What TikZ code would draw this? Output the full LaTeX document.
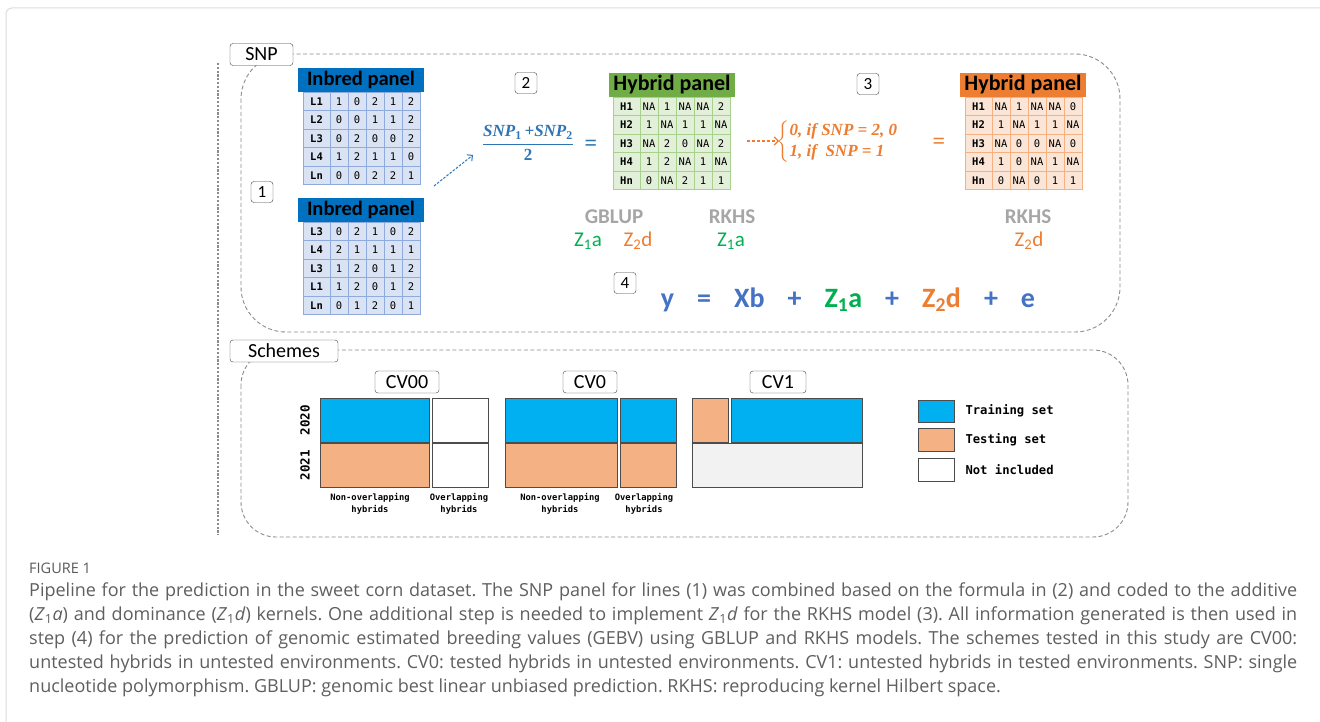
\documentclass[tikz,border=0pt]{standalone}
\usepackage{amsmath,bm}
\usepackage{fontspec}
\setmainfont{Carlito}
\setmonofont{DejaVu Sans Mono}
\newfontfamily\capfont{Open Sans}
\newfontfamily\serifmath{Liberation Serif}
\usetikzlibrary{arrows.meta,positioning}

\definecolor{inblue}{RGB}{0,112,192}
\definecolor{infill}{RGB}{218,227,243}
\definecolor{inline}{RGB}{143,170,220}
\definecolor{hygreen}{RGB}{112,173,71}
\definecolor{hyfill}{RGB}{226,240,217}
\definecolor{hyline}{RGB}{169,209,142}
\definecolor{hyorange}{RGB}{237,125,49}
\definecolor{orfill}{RGB}{251,229,214}
\definecolor{orline}{RGB}{244,177,131}
\definecolor{eqblue}{RGB}{68,114,196}
\definecolor{fracblue}{RGB}{46,117,182}
\definecolor{zgreen}{RGB}{0,176,80}
\definecolor{modgray}{RGB}{166,166,166}
\definecolor{trainblue}{RGB}{0,176,240}
\definecolor{testorange}{RGB}{244,177,131}
\definecolor{nilgray}{RGB}{242,242,242}
\definecolor{framegray}{RGB}{140,140,140}
\definecolor{capgray}{RGB}{95,95,95}
\definecolor{pagegray}{RGB}{220,220,220}

\newcommand\fsz[1]{\fontsize{#1}{#1}\selectfont}
\newcommand\gap{\hspace{23pt}}
\newcommand\frm{\serifmath\bfseries\itshape}
\frenchspacing

\begin{document}
\begin{tikzpicture}[x=1pt, y=-1pt,
      frame/.style={draw=framegray, line width=0.9pt, dash pattern=on 4pt off 2.5pt},
      tag/.style={draw=black!75, rounded corners=3pt, fill=white, inner sep=0pt,
                  minimum height=22pt, font=\fsz{20}},
      num/.style={draw=black!75, rounded corners=3pt, inner sep=0pt,
                  minimum width=22pt, minimum height=21pt, font=\fsz{17}},
      head/.style={anchor=north west, inner sep=0pt, outer sep=0pt, minimum width=126pt,
                   minimum height=24pt, font=\bfseries\fsz{22}},
      cell/.style={anchor=north west, inner sep=0pt, outer sep=0pt, line width=0.6pt,
                   minimum width=18pt, minimum height=18.5pt, font=\ttfamily\fsz{10.5}},
      lcell/.style={minimum width=27pt, font=\ttfamily\bfseries\fsz{10.5}},
      incell/.style={cell, fill=infill, draw=inline},
      hycell/.style={cell, fill=hyfill, draw=hyline},
      orcell/.style={cell, fill=orfill, draw=orline},
      model/.style={font=\bfseries\fsz{21}, text=modgray},
      kern/.style={font=\fsz{21}},
      box/.style={anchor=north west, draw=black!70, line width=0.8pt, inner sep=0pt,
                  outer sep=0pt, minimum height=44pt},
      train/.style={box, fill=trainblue},
      test/.style={box, fill=testorange},
      blank/.style={box, fill=white},
      year/.style={rotate=90, font=\ttfamily\bfseries\fsz{12.5}},
      sub/.style={align=center, font=\ttfamily\bfseries\fontsize{8.8}{12.5}\selectfont},
      legtxt/.style={anchor=west, font=\ttfamily\bfseries\fsz{12.2}},
      capline/.style={anchor=west, inner sep=0pt, font=\capfont\fsz{18}, text=capgray}
    ]
    \useasboundingbox (0,0) rectangle (1320,722);
    \fill[white] (0,0) rectangle (1320,722);
    \draw[pagegray, line width=1pt, rounded corners=6pt] (6,722) |- (1320,8);
    % dotted side rule
    \draw[black!45, line width=2.6pt, dash pattern=on 2.2pt off 1.6pt] (218,63) -- (218,535);
    % frames
    \draw[frame, rounded corners=45pt] (241,54) rectangle (1120,332);
    \draw[frame, rounded corners=35pt] (241,350) rectangle (1128,537);
    \node[tag, minimum width=63pt] (snp) at (261.5,54.5) {SNP};
    \node[tag, minimum width=108pt] (schemes) at (284,351) {Schemes};

    % step numbers
    \node[num] (s1) at (262,192) {1};
    \node[num] (s2) at (526,83) {2};
    \node[num] (s3) at (868,84) {3};
    \node[num] (s4) at (625,283) {4};

    % inbred panel (top)
    \node[head, fill=inblue, font=\bfseries\fsz{20.5}] (inA) at (298,68) {Inbred panel};
    \foreach \lab/\a/\b/\c/\d/\e [count=\r] in {L1/1/0/2/1/2, L2/0/0/1/1/2, L3/0/2/0/0/2, L4/1/2/1/1/0, Ln/0/0/2/2/1}{
      \node[incell, lcell] (inA-\r) at (303,{92+18.5*(\r-1)}) {\lab};
      \foreach \v [count=\k] in {\a,\b,\c,\d,\e}
        \node[incell] (inA-\r-\k) at ({312+18*\k},{92+18.5*(\r-1)}) {\v};
    }
    % inbred panel (bottom)
    \node[head, fill=inblue, font=\bfseries\fsz{20.5}] (inB) at (298,198) {Inbred panel};
    \foreach \lab/\a/\b/\c/\d/\e [count=\r] in {L3/0/2/1/0/2, L4/2/1/1/1/1, L3/1/2/0/1/2, L1/1/2/0/1/2, Ln/0/1/2/0/1}{
      \node[incell, lcell] (inB-\r) at (303,{222+18.5*(\r-1)}) {\lab};
      \foreach \v [count=\k] in {\a,\b,\c,\d,\e}
        \node[incell] (inB-\r-\k) at ({312+18*\k},{222+18.5*(\r-1)}) {\v};
    }
    % hybrid panel (additive)
    \node[head, fill=hygreen] (hyA) at (609,73) {Hybrid panel};
    \foreach \lab/\a/\b/\c/\d/\e [count=\r] in {H1/NA/1/NA/NA/2, H2/1/NA/1/1/NA, H3/NA/2/0/NA/2, H4/1/2/NA/1/NA, Hn/0/NA/2/1/1}{
      \node[hycell, lcell] (hyA-\r) at (613,{97+18.5*(\r-1)}) {\lab};
      \foreach \v [count=\k] in {\a,\b,\c,\d,\e}
        \node[hycell] (hyA-\r-\k) at ({622+18*\k},{97+18.5*(\r-1)}) {\v};
    }
    % hybrid panel (dominance)
    \node[head, fill=hyorange] (hyD) at (960,73) {Hybrid panel};
    \foreach \lab/\a/\b/\c/\d/\e [count=\r] in {H1/NA/1/NA/NA/0, H2/1/NA/1/1/NA, H3/NA/0/0/NA/0, H4/1/0/NA/1/NA, Hn/0/NA/0/1/1}{
      \node[orcell, lcell] (hyD-\r) at (965,{97+18.5*(\r-1)}) {\lab};
      \foreach \v [count=\k] in {\a,\b,\c,\d,\e}
        \node[orcell] (hyD-\r-\k) at ({974+18*\k},{97+18.5*(\r-1)}) {\v};
    }

    % formulas
    \node[font=\fsz{17}, text=fracblue] (frac) at (528,143)
      {$\genfrac{}{}{1.3pt}{0}{\text{\frm SNP{\upshape\textsubscript{1}}\,+SNP{\upshape\textsubscript{2}}}}{\text{\serifmath\bfseries 2}}$};
    \node[font=\serifmath\bfseries\fsz{22}, text=fracblue] (eqA) at (591,145) {=};
    \node[font=\fsz{17}, text=hyorange] (code) at (846,142)
      {$\begin{cases}\text{\frm 0, if SNP = 2, 0}\\ \text{\frm 1, if\ \ SNP = 1}\end{cases}$};
    \node[font=\serifmath\bfseries\fsz{22}, text=hyorange] (eqB) at (939,143) {=};
    \coordinate (blA) at (434,186);
    \coordinate (blB) at (473,155);
    \draw[fracblue, line width=1pt, dash pattern=on 2.5pt off 1.5pt, -{Straight Barb[length=4pt]}] (blA) -- (blB);
    \coordinate (orA) at (747,141);
    \coordinate (orB) at (779,141);
    \draw[hyorange, line width=1.2pt, dash pattern=on 3pt off 2pt, -{Straight Barb[length=4pt]}] (orA) -- (orB);

    % kernels per model
    \node[model] (gblup) at (614,217) {GBLUP};
    \node[kern, text=zgreen] (gA) at (588,241) {Z\textsubscript{1}a};
    \node[kern, text=hyorange] (gD) at (638,241) {Z\textsubscript{2}d};
    \node[model] (rkA) at (732,217) {RKHS};
    \node[kern, text=zgreen] (rA) at (731,241) {Z\textsubscript{1}a};
    \node[model] (rkD) at (1028,217) {RKHS};
    \node[kern, text=hyorange] (rD) at (1029,241) {Z\textsubscript{2}d};

    % model equation
    \node[font=\bfseries\fsz{28}, text=eqblue] (eq) at (848,300)
      {y\gap=\gap Xb\gap+\gap\textcolor{zgreen}{Z\textsubscript{1}a}\gap+\gap\textcolor{hyorange}{Z\textsubscript{2}d}\gap+\gap e};

    % schemes
    \node[tag, minimum width=64pt] (cv00) at (407,382) {CV00};
    \node[tag, minimum width=54pt] (cv0) at (590,382) {CV0};
    \node[tag, minimum width=56pt] (cv1) at (778,382) {CV1};
    \node[year] (y20) at (305,420) {2020};
    \node[year] (y21) at (305,465) {2021};
    % CV00
    \node[train, minimum width=109pt] (c00-a) at (320,398) {};
    \node[blank, minimum width=56pt] (c00-b) at (432,398) {};
    \node[test, minimum width=109pt] (c00-c) at (320,443) {};
    \node[blank, minimum width=56pt] (c00-d) at (432,443) {};
    % CV0
    \node[train, minimum width=112pt] (c0-a) at (505,398) {};
    \node[train, minimum width=56pt] (c0-b) at (620,398) {};
    \node[test, minimum width=112pt] (c0-c) at (505,443) {};
    \node[test, minimum width=56pt] (c0-d) at (620,443) {};
    % CV1
    \node[test, minimum width=36pt] (c1-a) at (692,398) {};
    \node[train, minimum width=131pt] (c1-b) at (731,398) {};
    \node[box, fill=nilgray, minimum width=170pt] (c1-c) at (692,443) {};
    \node[sub] (nA) at (370,504) {Non-overlapping\\hybrids};
    \node[sub] (oA) at (459,504) {Overlapping\\hybrids};
    \node[sub] (nB) at (560,504) {Non-overlapping\\hybrids};
    \node[sub] (oB) at (644,504) {Overlapping\\hybrids};
    % legend
    \node[train, minimum width=36pt, minimum height=22pt] (lg1) at (918,400) {};
    \node[test, minimum width=36pt, minimum height=23pt] (lg2) at (918,428) {};
    \node[blank, minimum width=36pt, minimum height=23pt] (lg3) at (918,458) {};
    \node[legtxt, right=8pt of lg1] (lt1) {Training set};
    \node[legtxt, right=8pt of lg2] (lt2) {Testing set};
    \node[legtxt, right=8pt of lg3] (lt3) {Not included};

    % caption
    \node[anchor=west, inner sep=0pt, font=\capfont\fsz{14.5}, text=black!65] (fig) at (29,568) {FIGURE 1};
    \node[capline] (cap1) at (29,592) {\makebox[1268pt][s]{Pipeline for the prediction in the sweet corn dataset. The SNP panel for lines (1) was combined based on the formula in (2) and coded to the additive}};
    \node[capline] (cap2) at (29,616) {\makebox[1268pt][s]{(\textit{Z}\textsubscript{1}\textit{a}) and dominance (\textit{Z}\textsubscript{1}\textit{d}) kernels. One additional step is needed to implement \textit{Z}\textsubscript{1}\textit{d} for the RKHS model (3). All information generated is then used in}};
    \node[capline] (cap3) at (29,640) {\makebox[1268pt][s]{step (4) for the prediction of genomic estimated breeding values (GEBV) using GBLUP and RKHS models. The schemes tested in this study are CV00:}};
    \node[capline] (cap4) at (29,664) {\makebox[1268pt][s]{untested hybrids in untested environments. CV0: tested hybrids in untested environments. CV1: untested hybrids in tested environments. SNP: single}};
    \node[capline] (cap5) at (29,688) {nucleotide polymorphism. GBLUP: genomic best linear unbiased prediction. RKHS: reproducing kernel Hilbert space.};
  \end{tikzpicture}
\end{document}
